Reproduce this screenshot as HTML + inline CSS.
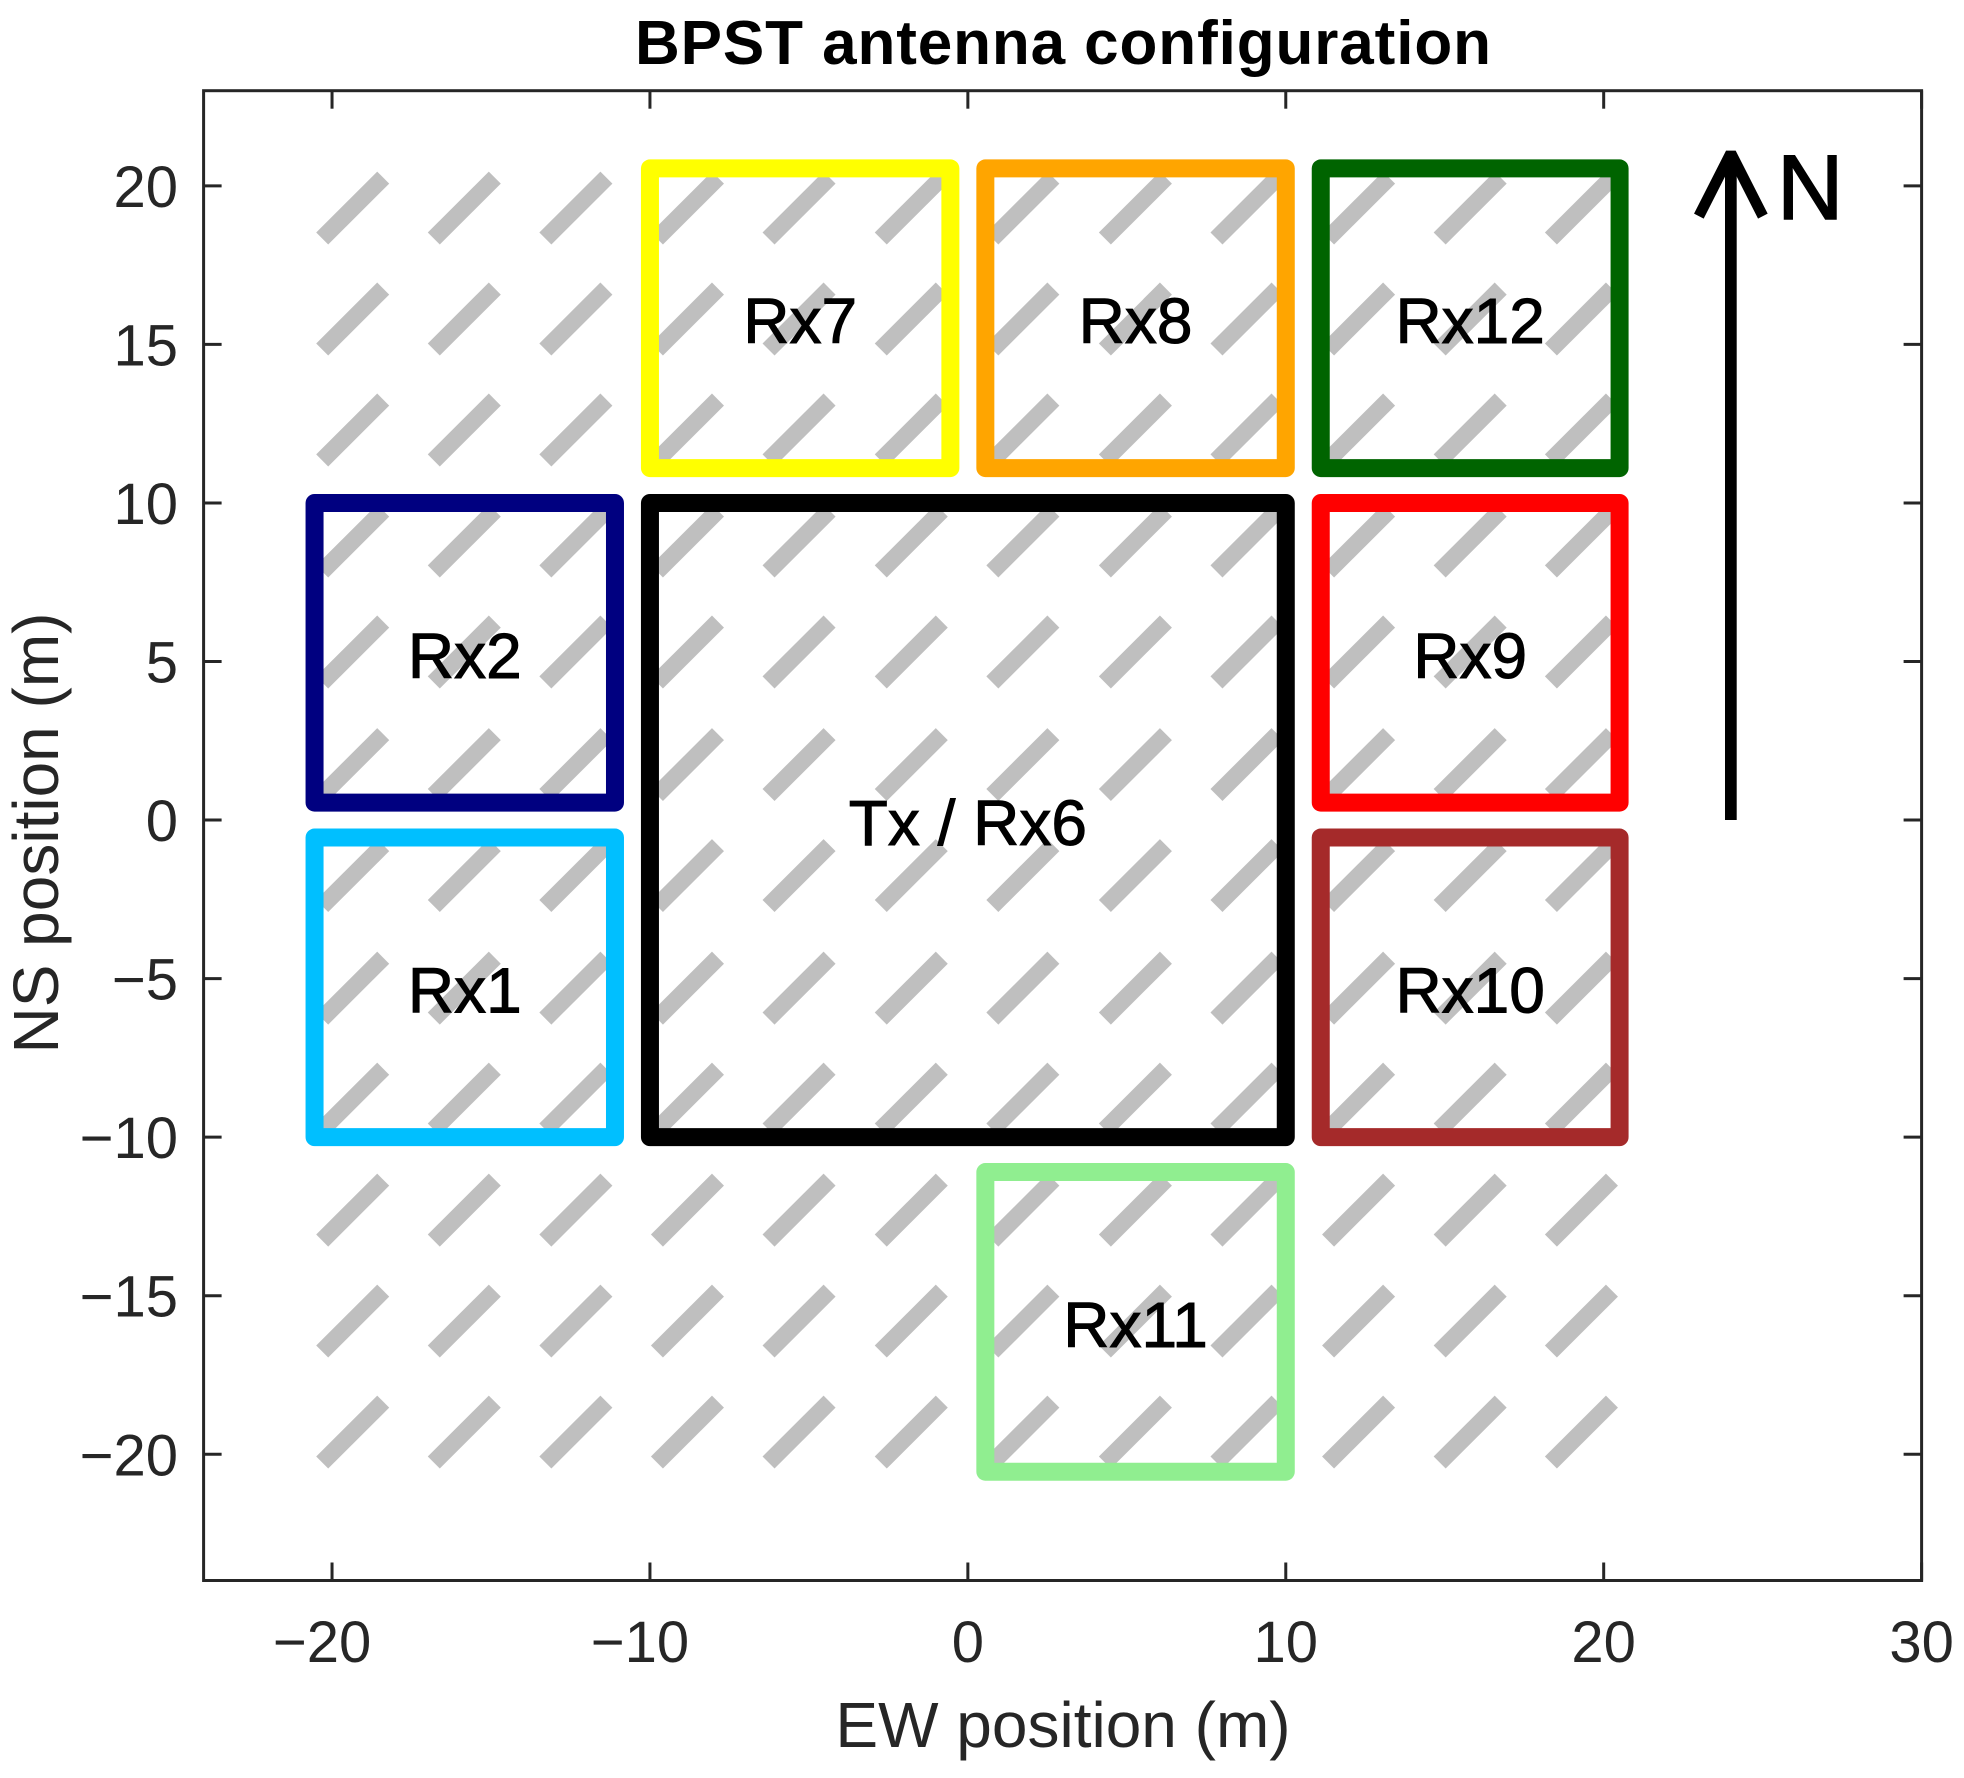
<!DOCTYPE html>
<html lang="en">
<head>
<meta charset="utf-8">
<title>BPST antenna configuration</title>
<style>
html,body{margin:0;padding:0;background:#fff;width:1964px;height:1778px;overflow:hidden}
svg{display:block;font-family:"Liberation Sans",Arial,sans-serif}
</style>
</head>
<body>
<svg id="chart" xmlns="http://www.w3.org/2000/svg" width="1964" height="1778" viewBox="0 0 1964 1778">
<rect x="0" y="0" width="1964" height="1778" fill="#ffffff"/>
<text x="1063" y="64" text-anchor="middle" font-size="62" font-weight="bold" fill="#000000" textLength="856" lengthAdjust="spacing">BPST antenna configuration</text>
<text x="1063" y="1747" text-anchor="middle" font-size="64" fill="#262626">EW position (m)</text>
<text transform="translate(58,833) rotate(-90)" text-anchor="middle" font-size="64" fill="#262626">NS position (m)</text>
<g id="dipoles"></g>
<g id="boxes"></g>
<g id="axes"></g>
<g id="labels"></g>
<g id="north"></g>
</svg>
<script>
var xTickValues = [-20, -10, 0, 10, 20, 30];
var yTickValues = [-20, -15, -10, -5, 0, 5, 10, 15, 20];
var xLimits = [-24.04, 30];
var yLimits = [-23.98, 23];
var dipoleEast = [-19.35, -15.84, -12.33, -8.82, -5.31, -1.78, 1.73, 5.27, 8.78, 12.29, 15.8, 19.3];
var dipoleNorth = [19.3, 15.8, 12.3, 8.8, 5.3, 1.75, -1.75, -5.3, -8.8, -12.3, -15.8, -19.3];
var dipoleHalfLength = 0.96;
var antennaNames = ["Rx7", "Rx8", "Rx12", "Rx2", "Tx / Rx6", "Rx9", "Rx1", "Rx10", "Rx11"];
var antennaWest = [-10, 0.55, 11.1, -20.55, -10, 11.1, -20.55, 11.1, 0.55];
var antennaEast = [-0.55, 10, 20.5, -11.1, 10, 20.5, -11.1, 20.5, 10];
var antennaSouth = [11.1, 11.1, 11.1, 0.55, -10, 0.55, -10, -10, -20.55];
var antennaNorth = [20.55, 20.55, 20.55, 10, 10, 10, -0.55, -0.55, -11.1];
var northArrowEast = 24;
var northArrowFrom = 0;
var northArrowTo = 21;

var antennaColors = ["#ffff00", "#ffa500", "#006400", "#000080", "#000000", "#ff0000", "#00bfff", "#a52a2a", "#90ee90"];
var plot = {left: 203.6, right: 1921.6, top: 90.7, bottom: 1580.5};
var NS = "http://www.w3.org/2000/svg";

function xScale(v) {
  return plot.left + (v - xLimits[0]) * (plot.right - plot.left) / (xLimits[1] - xLimits[0]);
}
function yScale(v) {
  return plot.top + (yLimits[1] - v) * (plot.bottom - plot.top) / (yLimits[1] - yLimits[0]);
}
function make(tag, attrs, parent) {
  var el = document.createElementNS(NS, tag);
  for (var k in attrs) { el.setAttribute(k, attrs[k]); }
  parent.appendChild(el);
  return el;
}
function fmt(v) {
  return (v < 0 ? "\u2212" + Math.abs(v) : String(v));
}

var dipoleGroup = document.getElementById("dipoles");
var boxGroup = document.getElementById("boxes");
var axisGroup = document.getElementById("axes");
var labelGroup = document.getElementById("labels");
var northGroup = document.getElementById("north");

dipoleNorth.forEach(function (n) {
  dipoleEast.forEach(function (e) {
    var d = make("line", {
      x1: xScale(e - dipoleHalfLength), y1: yScale(n - dipoleHalfLength),
      x2: xScale(e + dipoleHalfLength), y2: yScale(n + dipoleHalfLength),
      stroke: "#bfbfbf", "stroke-width": 17
    }, dipoleGroup);
    
    
  });
});

antennaNames.forEach(function (name, i) {
  var r = make("rect", {
    x: xScale(antennaWest[i]), y: yScale(antennaNorth[i]),
    width: xScale(antennaEast[i]) - xScale(antennaWest[i]),
    height: yScale(antennaSouth[i]) - yScale(antennaNorth[i]),
    fill: "none", stroke: antennaColors[i], "stroke-width": 18,
    "stroke-linejoin": "round"
  }, boxGroup);
  
  

  var t = make("text", {
    x: (xScale(antennaWest[i]) + xScale(antennaEast[i])) / 2,
    y: (yScale(antennaNorth[i]) + yScale(antennaSouth[i])) / 2 + 25,
    "text-anchor": "middle", "font-size": 64, fill: "#000000",
    stroke: "#000000", "stroke-width": 1
  }, labelGroup);
  t.textContent = name;
  
  
});

var frame = make("rect", {
  x: plot.left, y: plot.top, width: plot.right - plot.left, height: plot.bottom - plot.top,
  fill: "none", stroke: "#262626", "stroke-width": 3
}, axisGroup);



xTickValues.forEach(function (v) {
  var x = xScale(v);
  var b = make("line", {x1: x, x2: x, y1: plot.bottom, y2: plot.bottom - 18, stroke: "#262626", "stroke-width": 3}, axisGroup);
  
  
  var u = make("line", {x1: x, x2: x, y1: plot.top, y2: plot.top + 18, stroke: "#262626", "stroke-width": 3}, axisGroup);
  
  
  var t = make("text", {
    x: x + (v < 0 ? -10 : 0), y: 1662, "text-anchor": "middle", "font-size": 58, fill: "#262626"
  }, axisGroup);
  t.textContent = fmt(v);
  
  
});

yTickValues.forEach(function (v) {
  var y = yScale(v);
  var l = make("line", {x1: plot.left, x2: plot.left + 18, y1: y, y2: y, stroke: "#262626", "stroke-width": 3}, axisGroup);
  
  
  var r = make("line", {x1: plot.right, x2: plot.right - 18, y1: y, y2: y, stroke: "#262626", "stroke-width": 3}, axisGroup);
  
  
  var t = make("text", {
    x: 178, y: y + 21, "text-anchor": "end", "font-size": 58, fill: "#262626"
  }, axisGroup);
  t.textContent = fmt(v);
  
  
});

var ax = xScale(northArrowEast);
var tipY = yScale(northArrowTo) - 1;
var shaft = make("line", {
  x1: ax, x2: ax, y1: yScale(northArrowFrom), y2: tipY + 4,
  stroke: "#000000", "stroke-width": 11.7
}, northGroup);



var head = make("polyline", {
  points: (ax - 32) + "," + (tipY + 63) + " " + ax + "," + tipY + " " + (ax + 32) + "," + (tipY + 63),
  fill: "none", stroke: "#000000", "stroke-width": 10.8, "stroke-linejoin": "bevel"
}, northGroup);



var nLabel = make("text", {x: 1777, y: 219, "font-size": 92, fill: "#000000", stroke: "#000000", "stroke-width": 1.6}, northGroup);
nLabel.textContent = "N";


</script>
</body>
</html>
